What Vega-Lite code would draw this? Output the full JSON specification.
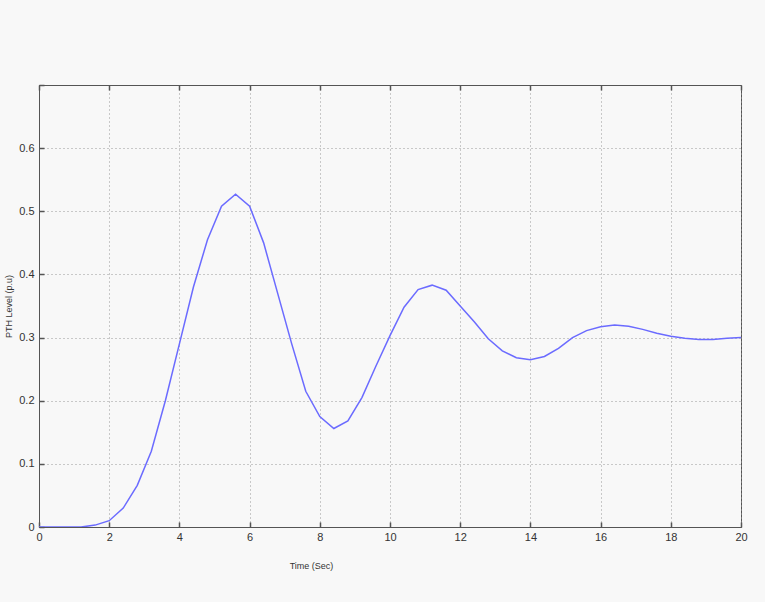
{
  "$schema": "https://vega.github.io/schema/vega-lite/v6.json",
  "width": 702,
  "height": 442,
  "autosize": {"type": "none"},
  "padding": {"left": 39, "top": 85, "right": 24, "bottom": 75},
  "background": "#f8f8f8",
  "config": {
    "view": {"stroke": "#555555", "strokeWidth": 1, "fill": "#f8f8f8"},
    "axis": {
      "labelFont": "Liberation Sans",
      "titleFont": "Liberation Sans",
      "labelColor": "#333333",
      "titleColor": "#333333",
      "labelFontSize": 11,
      "titleFontWeight": "normal",
      "domainColor": "#555555",
      "tickColor": "#555555",
      "tickWidth": 1.5,
      "gridColor": "#999999",
      "gridDash": [1, 3],
      "gridWidth": 1,
      "labelFlush": false,
      "labelOverlap": false
    }
  },
  "data": {
    "values": [
      {"t": 0, "v": 0}, {"t": 0.4, "v": 0}, {"t": 0.8, "v": 0}, {"t": 1.2, "v": 0},
      {"t": 1.6, "v": 0.003}, {"t": 2.0, "v": 0.01}, {"t": 2.4, "v": 0.03}, {"t": 2.8, "v": 0.066},
      {"t": 3.2, "v": 0.12}, {"t": 3.6, "v": 0.2}, {"t": 4.0, "v": 0.29}, {"t": 4.4, "v": 0.38},
      {"t": 4.8, "v": 0.455}, {"t": 5.2, "v": 0.508}, {"t": 5.6, "v": 0.527}, {"t": 6.0, "v": 0.508},
      {"t": 6.4, "v": 0.45}, {"t": 6.8, "v": 0.37}, {"t": 7.2, "v": 0.29}, {"t": 7.6, "v": 0.215},
      {"t": 8.0, "v": 0.175}, {"t": 8.4, "v": 0.156}, {"t": 8.8, "v": 0.168}, {"t": 9.2, "v": 0.205},
      {"t": 9.6, "v": 0.255}, {"t": 10.0, "v": 0.303}, {"t": 10.4, "v": 0.348}, {"t": 10.8, "v": 0.376},
      {"t": 11.2, "v": 0.383}, {"t": 11.6, "v": 0.375}, {"t": 12.0, "v": 0.35}, {"t": 12.4, "v": 0.325},
      {"t": 12.8, "v": 0.298}, {"t": 13.2, "v": 0.279}, {"t": 13.6, "v": 0.268}, {"t": 14.0, "v": 0.265},
      {"t": 14.4, "v": 0.27}, {"t": 14.8, "v": 0.283}, {"t": 15.2, "v": 0.3}, {"t": 15.6, "v": 0.311},
      {"t": 16.0, "v": 0.317}, {"t": 16.4, "v": 0.32}, {"t": 16.8, "v": 0.318}, {"t": 17.2, "v": 0.313},
      {"t": 17.6, "v": 0.307}, {"t": 18.0, "v": 0.302}, {"t": 18.4, "v": 0.299}, {"t": 18.8, "v": 0.297},
      {"t": 19.2, "v": 0.297}, {"t": 19.6, "v": 0.299}, {"t": 20.0, "v": 0.3}
    ]
  },
  "layer": [
    {
      "mark": {"type": "line", "color": "#6b6bff", "strokeWidth": 1.5, "clip": true},
      "encoding": {
        "x": {
          "field": "t", "type": "quantitative",
          "scale": {"domain": [0, 20], "nice": false, "zero": false},
          "axis": {
            "values": [0, 2, 4, 6, 8, 10, 12, 14, 16, 18, 20],
            "tickSize": -5,
            "labelPadding": 9,
            "title": "Time (Sec)",
            "titleFontSize": 9,
            "titleX": 272,
            "titleY": 38,
            "titleBaseline": "middle",
            "titleAnchor": null
          }
        },
        "y": {
          "field": "v", "type": "quantitative",
          "scale": {"domain": [0, 0.7], "nice": false},
          "axis": {
            "values": [0, 0.1, 0.2, 0.3, 0.4, 0.5, 0.6, 0.7],
            "labelExpr": "datum.value >= 0.65 ? '' : (datum.value == 0 ? '0' : format(datum.value, '.1f'))",
            "tickSize": -5,
            "labelPadding": 10,
            "title": "PTH Level (p.u)",
            "titleFontSize": 9,
            "titleX": -31,
            "titleY": 221,
            "titleAngle": -90,
            "titleBaseline": "middle",
            "titleAnchor": null
          }
        }
      }
    },
    {
      "mark": {"type": "line", "opacity": 0},
      "encoding": {
        "x": {
          "field": "t", "type": "quantitative",
          "scale": {"domain": [0, 20], "nice": false, "zero": false},
          "axis": {
            "orient": "top",
            "values": [0, 2, 4, 6, 8, 10, 12, 14, 16, 18, 20],
            "tickSize": -5,
            "labels": false,
            "grid": false,
            "title": null
          }
        },
        "y": {"field": "v", "type": "quantitative"}
      }
    }
  ],
  "resolve": {"axis": {"x": "independent"}}
}
